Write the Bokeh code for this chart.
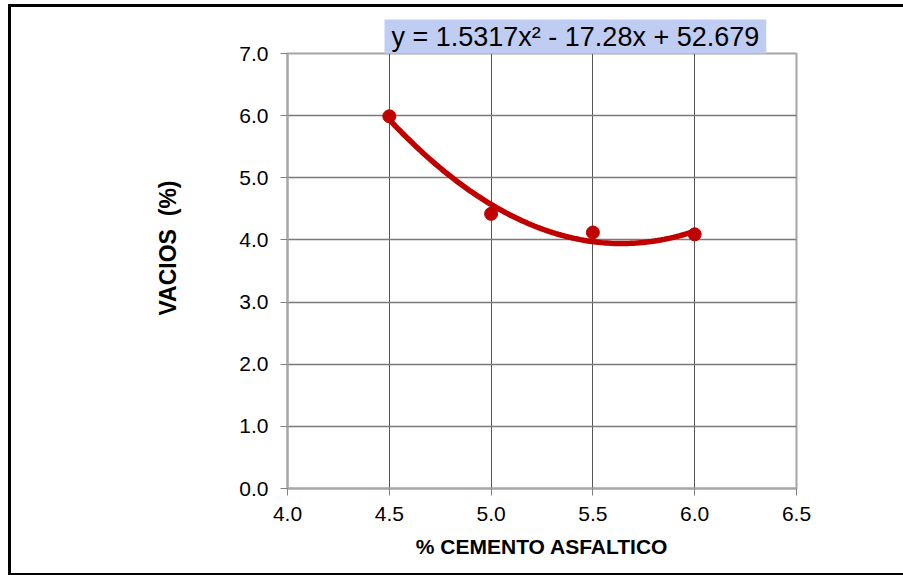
import numpy as np
from bokeh.plotting import figure
from bokeh.models import Title, FixedTicker, NumeralTickFormatter, Range1d, InlineStyleSheet
from bokeh.embed import file_html
from bokeh.resources import INLINE

# data
cemento = [4.5, 5.0, 5.5, 6.0]
vacios = [5.99, 4.42, 4.12, 4.09]
coef = [1.5317, -17.28, 52.679]  # trendline y = a x^2 + b x + c
x_ticks = [4.0, 4.5, 5.0, 5.5, 6.0, 6.5]
y_ticks = [0, 1, 2, 3, 4, 5, 6, 7]
eq_text = "y = 1.5317x\u00b2 - 17.28x + 52.679"
x_title = "% CEMENTO ASFALTICO"
y_title = "VACIOS\u00a0\u00a0(%)"

FONT = "Liberation Sans"
RED = "#c00000"

p = figure(width=903, height=575, output_backend="svg", toolbar_location=None,
           x_range=Range1d(4.0, 6.5), y_range=Range1d(0, 7),
           min_border_left=287, min_border_right=107, min_border_top=53, min_border_bottom=87)
p.background_fill_color = "white"
p.border_fill_color = "white"
p.outline_line_color = "#a6a6a6"
p.outline_line_width = 2

for ax in (p.xaxis[0], p.yaxis[0]):
    ax.axis_line_color = "#a6a6a6"
    ax.axis_line_width = 2
    ax.major_tick_line_color = "#808080"
    ax.major_tick_out = 7
    ax.major_tick_in = 0
    ax.minor_tick_out = 0
    ax.minor_tick_in = 0
    ax.major_label_text_font = FONT
    ax.major_label_text_font_size = "21px"
    ax.major_label_text_color = "black"
    ax.formatter = NumeralTickFormatter(format="0.0")

p.xaxis.ticker = FixedTicker(ticks=x_ticks)
p.yaxis.ticker = FixedTicker(ticks=y_ticks)
p.xaxis.major_label_standoff = 11
p.yaxis.major_label_standoff = 12

p.xaxis.axis_label = x_title
p.xaxis.axis_label_text_font = FONT
p.xaxis.axis_label_text_font_size = "21px"
p.xaxis.axis_label_text_font_style = "bold"
p.xaxis.axis_label_text_color = "black"
p.xaxis.axis_label_standoff = 11

p.xgrid.ticker = FixedTicker(ticks=x_ticks)
p.ygrid.ticker = FixedTicker(ticks=y_ticks)
p.xgrid.grid_line_color = "#555555"
p.xgrid.grid_line_width = 1
p.ygrid.grid_line_color = "#7a7a7a"
p.ygrid.grid_line_width = 1.3

# trendline
xs = np.linspace(min(cemento), max(cemento), 100)
ys = coef[0] * xs**2 + coef[1] * xs + coef[2]
p.line(xs, ys, line_color=RED, line_width=5.5)
p.scatter(cemento, vacios, size=13, fill_color=RED, line_color=RED)

# y title (vertical, on the left)
p.add_layout(Title(text=y_title, align="right", offset=127, standoff=112,
                   text_font=FONT, text_font_size="23px", text_font_style="bold",
                   text_color="black"), "left")

# equation above the plot area
p.add_layout(Title(text=eq_text, align="left", offset=97, standoff=0,
                   text_font=FONT, text_font_size="27px", text_font_style="normal",
                   text_color="black", background_fill_color="#bfcdf3",
                   padding=(7, 2)), "above")

# outer frame of the chart
p.stylesheets = [InlineStyleSheet(css=""":host::after {
  content: ''; position: absolute; left: 8px; top: 4px; width: 1000px; height: 566px;
  border: 3px solid black; pointer-events: none; z-index: 10; box-sizing: content-box;
}""")]

open("out.html", "w").write(file_html(p, INLINE))
